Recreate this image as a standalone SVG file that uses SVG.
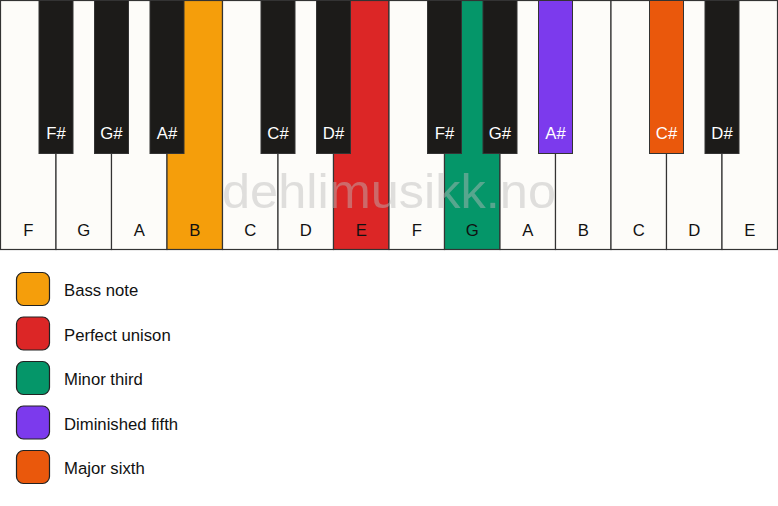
<svg xmlns="http://www.w3.org/2000/svg" width="778" height="506" viewBox="0 0 778 506">
<style>
.w{fill:#FDFCF9;stroke:#333;stroke-width:1.2}
.b{fill:#1C1B19;stroke:#333;stroke-width:1}
.wl{font-family:"Liberation Sans",Arial,sans-serif;font-size:16.7px;fill:#111;text-anchor:middle}
.bl{font-family:"Liberation Sans",Arial,sans-serif;font-size:16.7px;fill:#fff;text-anchor:middle}
.lg{font-family:"Liberation Sans",Arial,sans-serif;font-size:16.7px;fill:#111}
.sw{stroke:#222;stroke-width:1.2}
.wm{font-family:"Liberation Sans",Arial,sans-serif;font-size:48px;fill:#bbb;opacity:0.45}
</style>
<rect width="778" height="506" fill="#fff"/>
<g id="white-keys">
<g id="wk-F1"><rect class="w" x="0.5" y="0.5" width="55.5" height="249"/><text class="wl" x="28.25" y="236">F</text></g>
<g id="wk-G1"><rect class="w" x="56" y="0.5" width="55.5" height="249"/><text class="wl" x="83.75" y="236">G</text></g>
<g id="wk-A1"><rect class="w" x="111.5" y="0.5" width="55.5" height="249"/><text class="wl" x="139.25" y="236">A</text></g>
<g id="wk-B1"><rect class="w" x="167" y="0.5" width="55.5" height="249" style="fill:#F59E0B"/><text class="wl" x="194.75" y="236">B</text></g>
<g id="wk-C1"><rect class="w" x="222.5" y="0.5" width="55.5" height="249"/><text class="wl" x="250.25" y="236">C</text></g>
<g id="wk-D1"><rect class="w" x="278" y="0.5" width="55.5" height="249"/><text class="wl" x="305.75" y="236">D</text></g>
<g id="wk-E1"><rect class="w" x="333.5" y="0.5" width="55.5" height="249" style="fill:#DC2626"/><text class="wl" x="361.25" y="236">E</text></g>
<g id="wk-F2"><rect class="w" x="389" y="0.5" width="55.5" height="249"/><text class="wl" x="416.75" y="236">F</text></g>
<g id="wk-G2"><rect class="w" x="444.5" y="0.5" width="55.5" height="249" style="fill:#059669"/><text class="wl" x="472.25" y="236">G</text></g>
<g id="wk-A2"><rect class="w" x="500" y="0.5" width="55.5" height="249"/><text class="wl" x="527.75" y="236">A</text></g>
<g id="wk-B2"><rect class="w" x="555.5" y="0.5" width="55.5" height="249"/><text class="wl" x="583.25" y="236">B</text></g>
<g id="wk-C2"><rect class="w" x="611" y="0.5" width="55.5" height="249"/><text class="wl" x="638.75" y="236">C</text></g>
<g id="wk-D2"><rect class="w" x="666.5" y="0.5" width="55.5" height="249"/><text class="wl" x="694.25" y="236">D</text></g>
<g id="wk-E2"><rect class="w" x="722" y="0.5" width="55.5" height="249"/><text class="wl" x="749.75" y="236">E</text></g>
</g>
<text class="wm" x="222" y="208" textLength="334" lengthAdjust="spacingAndGlyphs">dehlimusikk.no</text>
<g id="black-keys">
<g id="bk-Fs1"><rect class="b" x="39" y="0.5" width="34" height="153"/><text class="bl" x="56" y="139">F#</text></g>
<g id="bk-Gs1"><rect class="b" x="94.5" y="0.5" width="34" height="153"/><text class="bl" x="111.5" y="139">G#</text></g>
<g id="bk-As1"><rect class="b" x="150" y="0.5" width="34" height="153"/><text class="bl" x="167" y="139">A#</text></g>
<g id="bk-Cs1"><rect class="b" x="261" y="0.5" width="34" height="153"/><text class="bl" x="278" y="139">C#</text></g>
<g id="bk-Ds1"><rect class="b" x="316.5" y="0.5" width="34" height="153"/><text class="bl" x="333.5" y="139">D#</text></g>
<g id="bk-Fs2"><rect class="b" x="427.5" y="0.5" width="34" height="153"/><text class="bl" x="444.5" y="139">F#</text></g>
<g id="bk-Gs2"><rect class="b" x="483" y="0.5" width="34" height="153"/><text class="bl" x="500" y="139">G#</text></g>
<g id="bk-As2"><rect class="b" x="538.5" y="0.5" width="34" height="153" style="fill:#7C3AED"/><text class="bl" x="555.5" y="139">A#</text></g>
<g id="bk-Cs2"><rect class="b" x="649.5" y="0.5" width="34" height="153" style="fill:#EA580C"/><text class="bl" x="666.5" y="139">C#</text></g>
<g id="bk-Ds2"><rect class="b" x="705" y="0.5" width="34" height="153"/><text class="bl" x="722" y="139">D#</text></g>
</g>
<g id="legend">
<g id="lg-bass"><rect class="sw" x="16.5" y="272.5" width="33" height="33" rx="7" fill="#F59E0B"/><text class="lg" x="64" y="296">Bass note</text></g>
<g id="lg-unison"><rect class="sw" x="16.5" y="317" width="33" height="33" rx="7" fill="#DC2626"/><text class="lg" x="64" y="340.5">Perfect unison</text></g>
<g id="lg-minor3"><rect class="sw" x="16.5" y="361.5" width="33" height="33" rx="7" fill="#059669"/><text class="lg" x="64" y="385">Minor third</text></g>
<g id="lg-dim5"><rect class="sw" x="16.5" y="406" width="33" height="33" rx="7" fill="#7C3AED"/><text class="lg" x="64" y="429.5">Diminished fifth</text></g>
<g id="lg-maj6"><rect class="sw" x="16.5" y="450.5" width="33" height="33" rx="7" fill="#EA580C"/><text class="lg" x="64" y="474">Major sixth</text></g>
</g>
</svg>
